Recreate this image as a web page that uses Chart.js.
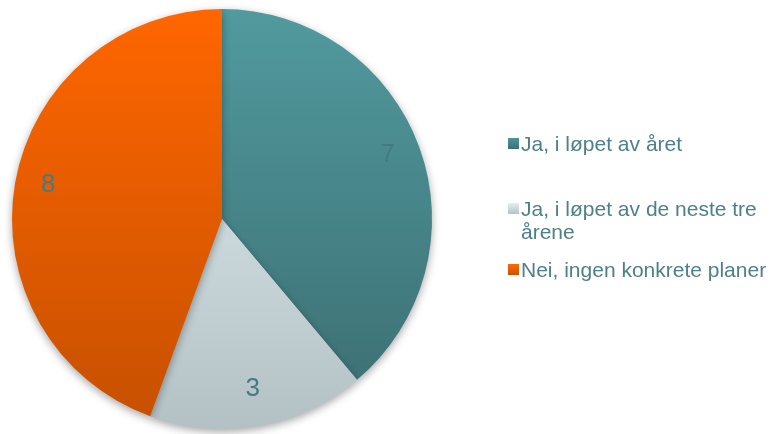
<!DOCTYPE html>
<html>
<head>
<meta charset="utf-8">
<script src="https://cdn.jsdelivr.net/npm/chart.js@4"></script>
<style>
  html,body{margin:0;padding:0;background:#fff;}
  #wrap{position:relative;width:773px;height:434px;overflow:hidden;}
  #chart{position:absolute;left:0;top:0;}
  .leg{position:absolute;left:508px;font:21px "Liberation Sans",Arial,sans-serif;color:#4d8187;line-height:23px;}
  .leg i{position:absolute;left:0;top:6px;width:11px;height:11px;}
  .leg span{display:block;margin-left:13px;}
</style>
</head>
<body>
<div id="wrap">
  <canvas id="chart" width="773" height="434"></canvas>
  <div class="leg" style="top:132px"><i style="background:linear-gradient(#4f9599,#3d7074)"></i><span>Ja, i løpet av året</span></div>
  <div class="leg" style="top:197px"><i style="background:linear-gradient(#e4eff1,#b5c3c7)"></i><span>Ja, i løpet av de neste tre<br>årene</span></div>
  <div class="leg" style="top:258px"><i style="background:linear-gradient(#ff6a00,#cc5200)"></i><span>Nei, ingen konkrete planer</span></div>
</div>
<script>
const labels = ['Ja, i løpet av året', 'Ja, i løpet av de neste tre årene', 'Nei, ingen konkrete planer'];
const values = [7, 3, 8];
const topColors = ['#519a9e', '#e6f1f3', '#ff6600'];
const bottomColors = ['#3b6d71', '#b3c1c5', '#c65000'];

function sliceGradients(chart){
  const area = chart.chartArea;
  if(!area) return topColors;
  const ctx = chart.ctx;
  return topColors.map((c,i)=>{
    const g = ctx.createLinearGradient(0, area.top, 0, area.bottom);
    g.addColorStop(0, c);
    g.addColorStop(1, bottomColors[i]);
    return g;
  });
}

const pieShadow = {
  id:'pieShadow',
  beforeDatasetsDraw(chart){
    const ctx = chart.ctx;
    ctx.save();
    ctx.shadowColor = 'rgba(0,0,0,0.35)';
    ctx.shadowBlur = 8;
    ctx.shadowOffsetY = 3;
  },
  afterDatasetsDraw(chart){
    chart.ctx.restore();
  }
};

const valueLabels = {
  id:'valueLabels',
  afterDraw(chart){
    const ctx = chart.ctx;
    const meta = chart.getDatasetMeta(0);
    ctx.save();
    ctx.font = '26px "Liberation Sans", Arial, sans-serif';
    ctx.fillStyle = '#427c82';
    ctx.textAlign = 'center';
    ctx.textBaseline = 'middle';
    meta.data.forEach((arc,i)=>{
      const p = arc.getProps(['x','y','startAngle','endAngle','outerRadius'], true);
      const a = (p.startAngle + p.endAngle) / 2;
      const r = p.outerRadius * 0.84;
      ctx.fillText(String(values[i]), p.x + Math.cos(a) * r, p.y + Math.sin(a) * r - 4);
    });
    ctx.restore();
  }
};

new Chart(document.getElementById('chart'), {
  type:'pie',
  data:{
    labels:labels,
    datasets:[{
      data:values,
      backgroundColor:ctx=>sliceGradients(ctx.chart)[ctx.dataIndex],
      borderWidth:0
    }]
  },
  options:{
    responsive:false,
    animation:false,
    layout:{padding:{left:12, top:9, right:341, bottom:5}},
    plugins:{legend:{display:false}, tooltip:{enabled:false}}
  },
  plugins:[pieShadow, valueLabels]
});
</script>
</body>
</html>
